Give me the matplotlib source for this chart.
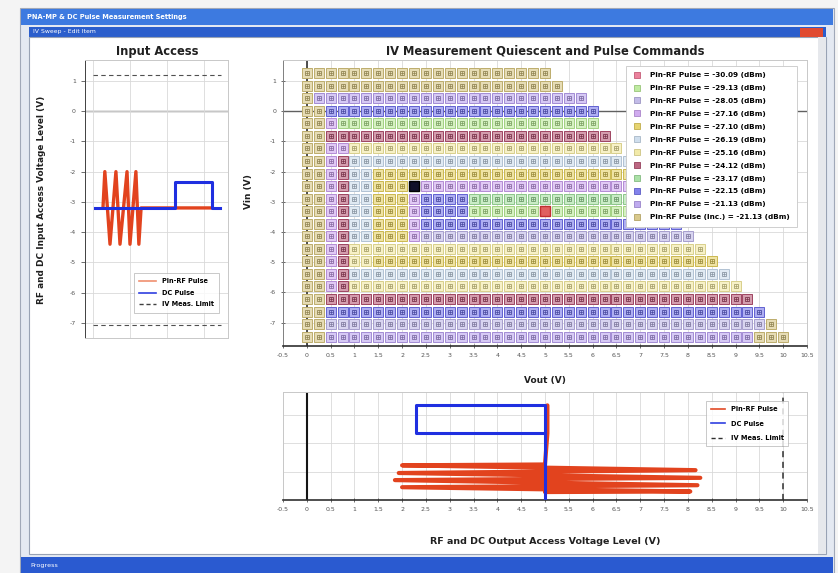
import matplotlib
matplotlib.use('Agg')
import matplotlib.pyplot as plt
from matplotlib.patches import Rectangle
from matplotlib.lines import Line2D
from matplotlib.colors import to_rgb

W, H = 838, 573
fig = plt.figure(figsize=(W / 100, H / 100), dpi=100)
fig.patch.set_facecolor('#f4f4f4')

# ---------------- data ----------------
vout_grid = [0.0, 0.25, 0.5, 0.75, 1.0, 1.25, 1.5, 1.75, 2.0, 2.25, 2.5, 2.75, 3.0, 3.25,
             3.5, 3.75, 4.0, 4.25, 4.5, 4.75, 5.0, 5.25, 5.5, 5.75, 6.0, 6.25, 6.5, 6.75,
             7.0, 7.25, 7.5, 7.75, 8.0, 8.25, 8.5, 8.75, 9.0, 9.25, 9.5, 9.75, 10.0]
vin_rows = [1.26, 0.84, 0.43, 0.01, -0.40, -0.82, -1.22, -1.65, -2.07, -2.48, -2.90,
            -3.31, -3.74, -4.13, -4.56, -4.96, -5.39, -5.80, -6.21, -6.63, -7.04, -7.47]
row_last_col = [20, 21, 23, 24, 24, 25, 26, 30, 30, 30, 31, 31, 31, 32, 33, 34, 35, 36,
                37, 38, 39, 40]
# (first column, series index) segments for each row
row_segments = [
    [(0, 11)],
    [(0, 11)],
    [(0, 11), (1, 10)],
    [(0, 11), (2, 9)],
    [(0, 11), (2, 3), (3, 1)],
    [(0, 11), (2, 7)],
    [(0, 11), (2, 3), (4, 6)],
    [(0, 11), (2, 3), (3, 7), (4, 5)],
    [(0, 11), (2, 3), (3, 7), (4, 5), (6, 4)],
    [(0, 11), (2, 3), (3, 7), (4, 5), (6, 4), (9, 3)],
    [(0, 11), (2, 3), (3, 7), (4, 5), (6, 4), (9, 3), (10, 9), (14, 8)],
    [(0, 11), (2, 3), (3, 7), (4, 5), (6, 4), (9, 3), (10, 9), (14, 1)],
    [(0, 11), (2, 3), (3, 7), (4, 5), (6, 4), (9, 3), (10, 9)],
    [(0, 11), (2, 3), (3, 7), (4, 5), (6, 4), (9, 3), (10, 2)],
    [(0, 11), (2, 3), (3, 7), (4, 6)],
    [(0, 11), (2, 3), (3, 7), (4, 6), (6, 4)],
    [(0, 11), (2, 3), (3, 7), (4, 5)],
    [(0, 11), (2, 3), (3, 7), (4, 6)],
    [(0, 11), (2, 7)],
    [(0, 11), (2, 9)],
    [(0, 11), (2, 2), (39, 11)],
    [(0, 11), (2, 10), (38, 11)],
]
quiescent_point = (2.25, -2.48)
pulse_point = (5.0, -3.31)

series_labels = ['Pin-RF Pulse = -30.09 (dBm)', 'Pin-RF Pulse = -29.13 (dBm)',
                 'Pin-RF Pulse = -28.05 (dBm)', 'Pin-RF Pulse = -27.16 (dBm)',
                 'Pin-RF Pulse = -27.10 (dBm)', 'Pin-RF Pulse = -26.19 (dBm)',
                 'Pin-RF Pulse = -25.16 (dBm)', 'Pin-RF Pulse = -24.12 (dBm)',
                 'Pin-RF Pulse = -23.17 (dBm)', 'Pin-RF Pulse = -22.15 (dBm)',
                 'Pin-RF Pulse = -21.13 (dBm)', 'Pin-RF Pulse (Inc.) = -21.13 (dBm)']
series_colors = ['#e86c8c', '#b4e890', '#b8b0e4', '#c89cec', '#e2cc58', '#c6d8ea',
                 '#f0e69a', '#b04c6c', '#9cdc98', '#6c6ce8', '#b49cec', '#d2c078']

vout_ticks = [-0.5, 0, 0.5, 1, 1.5, 2, 2.5, 3, 3.5, 4, 4.5, 5, 5.5, 6, 6.5, 7, 7.5, 8,
              8.5, 9, 9.5, 10, 10.5]
vin_ticks = [1, 0, -1, -2, -3, -4, -5, -6, -7]

# input access waveforms (time, V)
in_rf_t = [0.27, 0.32, 0.46, 0.62, 0.73, 0.92, 1.0, 1.16, 1.24, 1.30, 3.22]
in_rf_v = [-3.2, -2.0, -4.4, -2.0, -4.4, -2.0, -4.4, -2.0, -4.4, -3.2, -3.2]
in_dc_t = [0.05, 2.22, 2.22, 3.22, 3.22, 3.43]
in_dc_v = [-3.2, -3.2, -2.35, -2.35, -3.2, -3.2]
in_limits = [1.2, -7.07]

# output access waveforms (V, time)
out_rf_v = [5.05, 5.05, 5.0, 2.0, 8.16, 1.93, 8.26, 1.85, 8.2, 2.0, 8.05, 5.0]
out_rf_t = [3.33, 2.35, 1.25, 1.22, 1.05, 0.95, 0.78, 0.70, 0.52, 0.45, 0.30, 0.28]
out_dc_v = [5.0, 5.0, 2.3, 2.3, 5.0]
out_dc_t = [0.0, 3.33, 3.33, 2.35, 2.35]
out_limits = [10.0]


# ---------------- helpers ----------------
def fr(x0, y0, x1, y1):
    return [x0 / W, 1 - y1 / H, (x1 - x0) / W, (y1 - y0) / H]


def box(x0, y0, x1, y1, fc, ec='none', lw=0, z=-10):
    fig.patches.append(Rectangle((x0 / W, 1 - y1 / H), (x1 - x0) / W, (y1 - y0) / H,
                                 transform=fig.transFigure, facecolor=fc,
                                 edgecolor=ec, linewidth=lw, zorder=z))


def ftext(x, y, s, **kw):
    fig.text(x / W, 1 - y / H, s, **kw)


def mix(c, w):
    r, g, b = to_rgb(c)
    return (r + (1 - r) * w, g + (1 - g) * w, b + (1 - b) * w)


def dark(c, f):
    r, g, b = to_rgb(c)
    return (r * f, g * f, b * f)


# ---------------- window chrome ----------------
box(20, 8, 834, 573, '#e4e9f2', ec='#a0a8b8', lw=0.8, z=-20)
box(21, 9, 833, 25, '#3d7ae0', z=-19)
ftext(27, 17, 'PNA-MP & DC Pulse Measurement Settings', color='white', fontsize=4.8,
      fontweight='bold', va='center')
box(29, 27, 826, 37, '#2b5ecc', z=-19)
ftext(33, 32, 'IV Sweep - Edit Item', color='white', fontsize=4.4, va='center')
box(800, 27.5, 823, 36.5, '#e04a30', z=-18)
box(29, 37, 826, 554, 'white', ec='#98a2b4', lw=0.8, z=-19)
box(818, 37, 826, 554, '#e6e8ec', z=-18)
box(21, 557, 833, 573, '#2a5ad0', z=-19)
ftext(30, 565, 'Progress', color='white', fontsize=4.6, va='center')

grid_c = '#d9d9d9'
tick_c = '#555555'

# ---------------- input access chart ----------------
ax1 = fig.add_axes(fr(85, 60, 228, 338))
ax1.set_zorder(5)
ax1.set_xlim(-0.216, 3.65)
ax1.set_ylim(-7.5, 1.69)
ax1.set_yticks(vin_ticks)
ax1.set_yticklabels([str(v) for v in vin_ticks])
ax1.set_xticks([0, 1, 2, 3])
ax1.set_xticklabels([])
ax1.tick_params(axis='x', length=0)
ax1.tick_params(axis='y', labelsize=4.5, colors=tick_c, length=3, width=0.6)
ax1.grid(True, color=grid_c, lw=0.6)
for s in ax1.spines.values():
    s.set_color('#c8c8c8')
    s.set_linewidth(0.7)
ax1.spines['left'].set_color('#404040')
ax1.axhline(0, color='#707070', lw=1.0, zorder=1)
for lv in in_limits:
    ax1.plot([0, 3.45], [lv, lv], color='#505050', lw=0.8, ls=(0, (4, 3)), zorder=2)
ax1.plot(in_rf_t, in_rf_v, color='#e2431e', lw=2.4, zorder=3, solid_joinstyle='round')
ax1.plot(in_dc_t, in_dc_v, color='#1f2fe0', lw=2.2, zorder=4)
h1 = [Line2D([], [], color='#f09070', lw=1.2), Line2D([], [], color='#3040e0', lw=1.2),
      Line2D([], [], color='#404040', lw=1.0, ls=(0, (3, 2)))]
lg1 = ax1.legend(h1, ['Pin-RF Pulse', 'DC Pulse', 'IV Meas. Limit'], loc='upper right',
                 bbox_to_anchor=(0.958, 0.245), frameon=True, fancybox=False,
                 handlelength=2.6, labelspacing=0.85, borderpad=0.8,
                 prop={'size': 4.7, 'weight': 'bold'})
lg1.get_frame().set_edgecolor('#b0b0b0')
lg1.get_frame().set_linewidth(0.6)

ftext(157, 51, 'Input Access', fontsize=8.3, fontweight='bold', ha='center', va='center',
      color='#202020')
ftext(42, 200, 'RF and DC Input Access Voltage Level (V)', fontsize=6.4, fontweight='bold',
      rotation=90, ha='center', va='center', color='#202020')

# ---------------- IV plane ----------------
ax2 = fig.add_axes(fr(283, 60, 807, 346))
ax2.set_zorder(5)
ax2.set_xlim(-0.5, 10.5)
ax2.set_ylim(-7.77, 1.69)
ax2.set_xticks(vout_ticks)
ax2.set_xticklabels([f'{v:g}' for v in vout_ticks])
ax2.set_yticks(vin_ticks)
ax2.set_yticklabels([str(v) for v in vin_ticks])
ax2.tick_params(labelsize=4.5, colors=tick_c, length=3, width=0.6, direction='inout')
ax2.grid(True, color=grid_c, lw=0.6, zorder=0)
ax2.set_axisbelow(True)
for s in ax2.spines.values():
    s.set_color('#c8c8c8')
    s.set_linewidth(0.7)
ax2.spines['bottom'].set_color('#303030')
ax2.spines['bottom'].set_linewidth(1.2)
ax2.spines['left'].set_color('#808080')
ax2.axhline(0, color='#606060', lw=1.0, zorder=1)
ax2.axvline(0, color='#303030', lw=1.2, zorder=1)

pts = {i: ([], []) for i in range(len(series_colors))}
for r, (vin, segs, last) in enumerate(zip(vin_rows, row_segments, row_last_col)):
    for k, (start, ci) in enumerate(segs):
        stop = segs[k + 1][0] - 1 if k + 1 < len(segs) else last
        stop = min(stop, last)
        for j in range(start, stop + 1):
            pts[ci][0].append(vout_grid[j])
            pts[ci][1].append(vin)
for ci, (xs, ys) in pts.items():
    if not xs:
        continue
    c = series_colors[ci]
    ax2.plot(xs, ys, ls='none', marker='s', ms=7.4, mfc=mix(c, 0.45), mec=dark(c, 0.9),
             mew=0.7, zorder=3)
    ax2.plot(xs, ys, ls='none', marker='s', ms=3.0, mfc='none', mec=dark(c, 0.7),
             mew=0.6, zorder=4)
    ax2.plot(xs, ys, ls='none', marker='+', ms=3.0, mec=dark(c, 0.7), mew=0.5, zorder=4)
ax2.plot([quiescent_point[0]], [quiescent_point[1]], ls='none', marker='s', ms=7.6,
         mfc='#10102a', mec='#000000', zorder=5)
ax2.plot([pulse_point[0]], [pulse_point[1]], ls='none', marker='s', ms=7.0,
         mfc='#e06060', mec='#c03030', zorder=5)

h2 = [Line2D([], [], ls='none', marker='s', ms=4.2, mfc=mix(c, 0.15), mec=dark(c, 0.85),
             mew=0.6) for c in series_colors]
lg2 = ax2.legend(h2, series_labels, loc='upper right', bbox_to_anchor=(0.987, 0.993),
                 frameon=True, fancybox=False, handlelength=1.0, handletextpad=1.4,
                 labelspacing=0.95, borderpad=0.9, prop={'size': 5.2, 'weight': 'bold'})
lg2.get_frame().set_edgecolor('#c8c8c8')
lg2.get_frame().set_linewidth(0.6)
lg2.get_frame().set_alpha(1.0)
lg2.set_zorder(10)

ftext(545, 51, 'IV Measurement Quiescent and Pulse Commands', fontsize=8.3,
      fontweight='bold', ha='center', va='center', color='#202020')
ftext(545, 380, 'Vout (V)', fontsize=6.5, fontweight='bold', ha='center', va='center',
      color='#202020')
ftext(248, 192, 'Vin (V)', fontsize=6.5, fontweight='bold', rotation=90, ha='center',
      va='center', color='#202020')

# ---------------- output access chart ----------------
ax3 = fig.add_axes(fr(283, 392, 807, 500))
ax3.set_zorder(5)
ax3.set_xlim(-0.5, 10.5)
ax3.set_ylim(0, 3.8)
ax3.set_xticks(vout_ticks)
ax3.set_xticklabels([f'{v:g}' for v in vout_ticks])
ax3.set_yticks([1, 2, 3])
ax3.set_yticklabels([])
ax3.tick_params(axis='y', length=0)
ax3.tick_params(axis='x', labelsize=4.5, colors=tick_c, length=3, width=0.6,
                direction='inout')
ax3.grid(True, color=grid_c, lw=0.6)
for s in ax3.spines.values():
    s.set_color('#c8c8c8')
    s.set_linewidth(0.7)
ax3.spines['bottom'].set_color('#303030')
ax3.spines['bottom'].set_linewidth(1.2)
ax3.axvline(0, color='#151515', lw=1.5, zorder=2)
for lv in out_limits:
    ax3.axvline(lv, color='#303030', lw=1.1, ls=(0, (4, 3)), zorder=2)
ax3.plot(out_rf_v, out_rf_t, color='#e2431e', lw=3.0, zorder=3, solid_joinstyle='round',
         solid_capstyle='round')
ax3.plot(out_dc_v, out_dc_t, color='#1f2fe0', lw=2.2, zorder=4)
h3 = [Line2D([], [], color='#e24a26', lw=1.2), Line2D([], [], color='#3040e0', lw=1.2),
      Line2D([], [], color='#303030', lw=1.0, ls=(0, (3, 2)))]
lg3 = ax3.legend(h3, ['Pin-RF Pulse', 'DC Pulse', 'IV Meas. Limit'], loc='upper right',
                 bbox_to_anchor=(0.971, 0.944), frameon=True, fancybox=False,
                 handlelength=2.2, labelspacing=1.3, borderpad=0.7,
                 prop={'size': 4.8, 'weight': 'bold'})
lg3.get_frame().set_edgecolor('#b0b0b0')
lg3.get_frame().set_linewidth(0.6)

ftext(545, 541, 'RF and DC Output Access Voltage Level (V)', fontsize=6.8,
      fontweight='bold', ha='center', va='center', color='#202020')

fig.savefig('out.png', dpi=100, facecolor=fig.get_facecolor())
